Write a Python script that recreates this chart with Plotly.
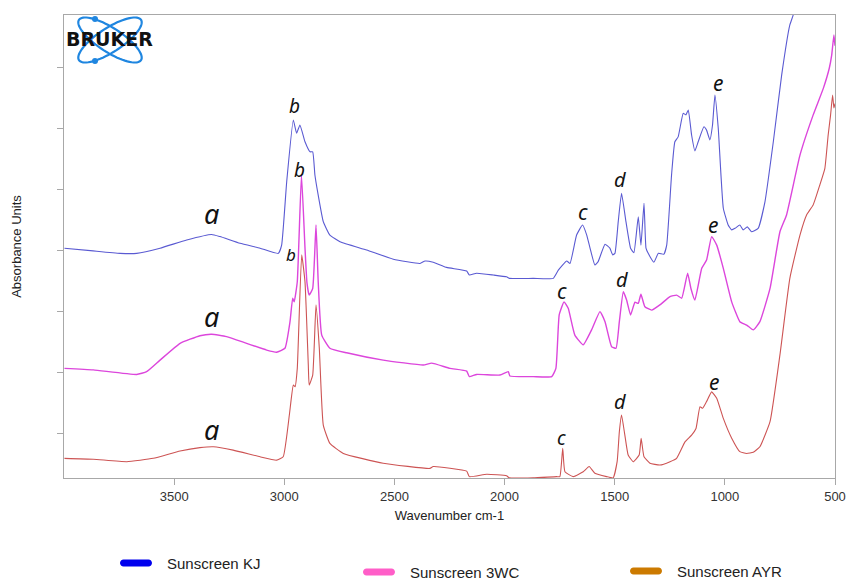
import numpy as np
import plotly.graph_objects as go

# ---------------- FTIR spectra (wavenumber cm-1, absorbance units) ----------------
kj_wn = [3998, 3868, 3746, 3670, 3564, 3443, 3330, 3292, 3201, 3110, 3027, 3012, 2989,
         2959, 2944, 2929, 2906, 2883, 2871, 2861, 2846, 2823, 2793, 2747, 2626, 2505,
         2384, 2361, 2324, 2263, 2172, 2160, 2127, 2051, 1991, 1979, 1870, 1779, 1756,
         1718, 1703, 1673, 1646, 1627, 1612, 1590, 1575, 1544, 1522, 1509, 1499, 1484,
         1469, 1449, 1428, 1413, 1393, 1381, 1367, 1358, 1348, 1322, 1302, 1277, 1264,
         1242, 1227, 1212, 1189, 1177, 1166, 1151, 1136, 1121, 1095, 1083, 1068, 1056,
         1045, 1030, 1007, 985, 969, 954, 932, 917, 898, 879, 849, 818, 780, 742, 705,
         690, 680, 600, 500]
kj_abs = [0.806, 0.797, 0.789, 0.789, 0.806, 0.833, 0.851, 0.844, 0.822, 0.806, 0.789,
          0.816, 1.024, 1.226, 1.183, 1.210, 1.155, 1.122, 1.122, 1.046, 0.980, 0.893,
          0.849, 0.827, 0.800, 0.770, 0.756, 0.764, 0.760, 0.743, 0.731, 0.718, 0.724,
          0.718, 0.712, 0.707, 0.707, 0.707, 0.734, 0.764, 0.756, 0.849, 0.882, 0.849,
          0.806, 0.751, 0.762, 0.819, 0.806, 0.784, 0.789, 0.893, 0.986, 0.893, 0.806,
          0.791, 0.909, 0.816, 0.953, 0.806, 0.789, 0.760, 0.789, 0.786, 0.816, 1.046,
          1.155, 1.171, 1.248, 1.243, 1.259, 1.177, 1.125, 1.155, 1.204, 1.193, 1.161,
          1.210, 1.308, 1.199, 0.937, 0.882, 0.866, 0.871, 0.882, 0.866, 0.876, 0.860,
          0.871, 0.958, 1.155, 1.374, 1.538, 1.570, 1.620, 1.800, 1.900]

wc_wn = [3998, 3867, 3670, 3625, 3564, 3473, 3383, 3330, 3262, 3171, 3080, 3035, 2997,
         2974, 2962, 2955, 2941, 2922, 2906, 2897, 2887, 2871, 2856, 2846, 2830, 2793,
         2717, 2551, 2369, 2331, 2248, 2172, 2160, 2127, 2021, 1983, 1976, 1870, 1786,
         1767, 1752, 1730, 1711, 1681, 1643, 1605, 1567, 1544, 1514, 1494, 1479, 1461,
         1446, 1428, 1408, 1393, 1381, 1363, 1332, 1295, 1249, 1219, 1196, 1169, 1154,
         1136, 1105, 1083, 1060, 1037, 1007, 969, 932, 901, 871, 841, 795, 750, 720,
         659, 599, 553, 526, 515, 505, 500]
wc_abs = [0.412, 0.407, 0.392, 0.401, 0.439, 0.494, 0.519, 0.524, 0.516, 0.494, 0.472,
          0.465, 0.478, 0.565, 0.642, 0.630, 0.696, 1.046, 0.807, 0.692, 0.652, 0.674,
          0.882, 0.696, 0.521, 0.478, 0.463, 0.439, 0.423, 0.429, 0.412, 0.403, 0.385,
          0.392, 0.390, 0.401, 0.387, 0.385, 0.385, 0.412, 0.587, 0.630, 0.609, 0.521,
          0.489, 0.538, 0.598, 0.565, 0.483, 0.478, 0.565, 0.663, 0.636, 0.587, 0.629,
          0.625, 0.655, 0.614, 0.603, 0.620, 0.647, 0.652, 0.642, 0.724, 0.674, 0.636,
          0.740, 0.767, 0.844, 0.816, 0.740, 0.630, 0.565, 0.554, 0.538, 0.565, 0.674,
          0.860, 0.915, 1.111, 1.243, 1.330, 1.396, 1.439, 1.505, 1.470]

ayr_wn = [3998, 3867, 3715, 3595, 3473, 3383, 3322, 3232, 3110, 3035, 3005, 2977, 2959,
          2951, 2941, 2921, 2906, 2891, 2887, 2871, 2856, 2841, 2823, 2793, 2732, 2551,
          2339, 2324, 2172, 2160, 2081, 1991, 1979, 1870, 1764, 1749, 1736, 1726, 1688,
          1643, 1616, 1590, 1537, 1507, 1489, 1479, 1469, 1454, 1439, 1416, 1389, 1380,
          1367, 1340, 1295, 1249, 1219, 1181, 1151, 1131, 1113, 1101, 1083, 1060, 1037,
          1007, 969, 932, 901, 871, 841, 795, 750, 705, 659, 629, 599, 569, 546, 531,
          520, 511, 505, 500]
ayr_abs = [0.117, 0.114, 0.106, 0.117, 0.141, 0.152, 0.155, 0.144, 0.122, 0.111, 0.122,
           0.259, 0.357, 0.352, 0.412, 0.784, 0.696, 0.423, 0.357, 0.390, 0.620, 0.478,
           0.226, 0.166, 0.133, 0.101, 0.084, 0.090, 0.075, 0.057, 0.065, 0.060, 0.053,
           0.053, 0.057, 0.057, 0.150, 0.073, 0.057, 0.073, 0.090, 0.068, 0.057, 0.053,
           0.106, 0.204, 0.259, 0.193, 0.128, 0.106, 0.128, 0.183, 0.122, 0.101, 0.095,
           0.106, 0.117, 0.171, 0.193, 0.215, 0.286, 0.281, 0.303, 0.335, 0.314, 0.248,
           0.183, 0.139, 0.133, 0.137, 0.155, 0.237, 0.456, 0.707, 0.849, 0.915, 0.948,
           1.013, 1.068, 1.177, 1.243, 1.308, 1.266, 1.280]

series_names = ["Sunscreen KJ", "Sunscreen 3WC", "Sunscreen AYR"]
line_colors = ["#5a5ad2", "#dc46dc", "#cd5454"]
legend_colors = ["#0000ee", "#ff5ec8", "#cc7a00"]

# Band labels: (wavenumber, absorbance, letter, size)
band_labels = [
    (3330, 0.921, "a", 27), (3330, 0.581, "a", 27), (3330, 0.210, "a", 27),
    (2955, 1.273, "b", 19), (2929, 1.062, "b", 19), (2970, 0.784, "b", 17),
    (1643, 0.926, "c", 21), (1740, 0.666, "c", 21), (1742, 0.183, "c", 19),
    (1476, 1.030, "d", 20), (1469, 0.702, "d", 20), (1476, 0.303, "d", 20),
    (1033, 1.347, "e", 21), (1053, 0.882, "e", 21), (1048, 0.368, "e", 21),
]

x_ticks = [3500, 3000, 2500, 2000, 1500, 1000, 500]
y_ticks = [0.2, 0.4, 0.6, 0.8, 1.0, 1.2, 1.4]

W, H = 848, 580
L, R, T, B = 64, 13, 15, 102
PW, PH = W - L - R, H - T - B

fig = go.Figure()

for wn, ab, name, col, lw in zip([kj_wn, wc_wn, ayr_wn], [kj_abs, wc_abs, ayr_abs],
                                 series_names, line_colors, [1.1, 1.4, 1.1]):
    fig.add_trace(go.Scatter(x=wn, y=ab, mode="lines", name=name,
                             line=dict(color=col, width=lw, shape="spline",
                                       smoothing=0.4),
                             showlegend=False, hoverinfo="skip"))

for xl, yl, ch, sz in band_labels:
    fig.add_annotation(x=xl, y=yl, text=ch, showarrow=False,
                       font=dict(family="Noto Sans", size=sz, color="#111111",
                                 style="italic"),
                       xanchor="center", yanchor="middle")


def to_paper(px, py):
    return (px - L) / PW, (H - B - py) / PH


def pill_path(x0, x1, yc, h):
    """Rounded bar (legend swatch) between pixel x0..x1 at height yc."""
    r = h / 2.0
    k = 0.5523 * r
    pts = [
        ("M", [(x0 + r, yc - r)]),
        ("L", [(x1 - r, yc - r)]),
        ("C", [(x1 - r + k, yc - r), (x1, yc - k), (x1, yc)]),
        ("C", [(x1, yc + k), (x1 - r + k, yc + r), (x1 - r, yc + r)]),
        ("L", [(x0 + r, yc + r)]),
        ("C", [(x0 + r - k, yc + r), (x0, yc + k), (x0, yc)]),
        ("C", [(x0, yc - k), (x0 + r - k, yc - r), (x0 + r, yc - r)]),
    ]
    out = []
    for cmd, ps in pts:
        coords = " ".join("{:.5f},{:.5f}".format(*to_paper(u, v)) for u, v in ps)
        out.append(cmd + " " + coords)
    return " ".join(out) + " Z"


shapes = []

# Bruker logo: two crossing orbits, two electrons and the word mark
cx, cy, a, b = 110.0, 40.0, 37.0, 12.0
t = np.linspace(0, 2 * np.pi, 73)
for ang in (33, -33):
    th = np.deg2rad(ang)
    ex = cx + a * np.cos(t) * np.cos(th) - b * np.sin(t) * np.sin(th)
    ey = cy + a * np.cos(t) * np.sin(th) + b * np.sin(t) * np.cos(th)
    pts = [to_paper(u, v) for u, v in zip(ex, ey)]
    path = "M " + " L ".join(f"{u:.5f},{v:.5f}" for u, v in pts) + " Z"
    shapes.append(dict(type="path", path=path, xref="paper", yref="paper",
                       line=dict(color="#1f86e0", width=2.2), layer="above"))
for dx, dy in ((95, 19), (95, 61)):
    x0, y0 = to_paper(dx - 3, dy + 3)
    x1, y1 = to_paper(dx + 3, dy - 3)
    shapes.append(dict(type="circle", xref="paper", yref="paper", x0=x0, y0=y0,
                       x1=x1, y1=y1, fillcolor="#1f86e0", line=dict(width=0),
                       layer="above"))
lx, ly = to_paper(109, 39)
fig.add_annotation(x=lx, y=ly, xref="paper", yref="paper", text="<b>BRUKER</b>",
                   showarrow=False, xanchor="center", yanchor="middle",
                   font=dict(family="DejaVu Sans", size=19, color="#111111"))

# Legend below the axis: swatch + label for each sample
legend_pos = [(120, 563), (363, 572), (630, 571)]
for (sx, sy), name, col in zip(legend_pos, series_names, legend_colors):
    shapes.append(dict(type="path", path=pill_path(sx, sx + 32, sy, 7),
                       xref="paper", yref="paper", fillcolor=col,
                       line=dict(width=0)))
    tx, ty = to_paper(sx + 45, sy)
    fig.add_annotation(x=tx, y=ty, xref="paper", yref="paper", text=name,
                       showarrow=False, xanchor="left", yanchor="middle",
                       font=dict(family="Liberation Sans", size=15, color="#222222"))

axis_common = dict(showline=True, linecolor="#a8a8a8", linewidth=1, mirror=True,
                   ticks="outside", ticklen=6, tickcolor="#a8a8a8", showgrid=False,
                   zeroline=False, automargin=False)

fig.update_layout(
    width=W, height=H,
    margin=dict(l=L, r=R, t=T, b=B, autoexpand=False),
    paper_bgcolor="white", plot_bgcolor="white",
    showlegend=False,
    font=dict(family="Liberation Sans", size=13, color="#222222"),
    shapes=shapes,
    xaxis=dict(range=[4000, 500], tickvals=x_ticks,
               ticktext=[str(v) for v in x_ticks],
               title=dict(text="Wavenumber cm-1", standoff=8,
                          font=dict(size=13, color="#222222")),
               tickfont=dict(size=13, color="#333333"), **axis_common),
    yaxis=dict(range=[0.0525, 1.5705], tickvals=y_ticks, showticklabels=False,
               title=dict(text="Absorbance Units", standoff=32,
                          font=dict(size=13, color="#222222")),
               **axis_common),
)

fig.write_html("out.html")
